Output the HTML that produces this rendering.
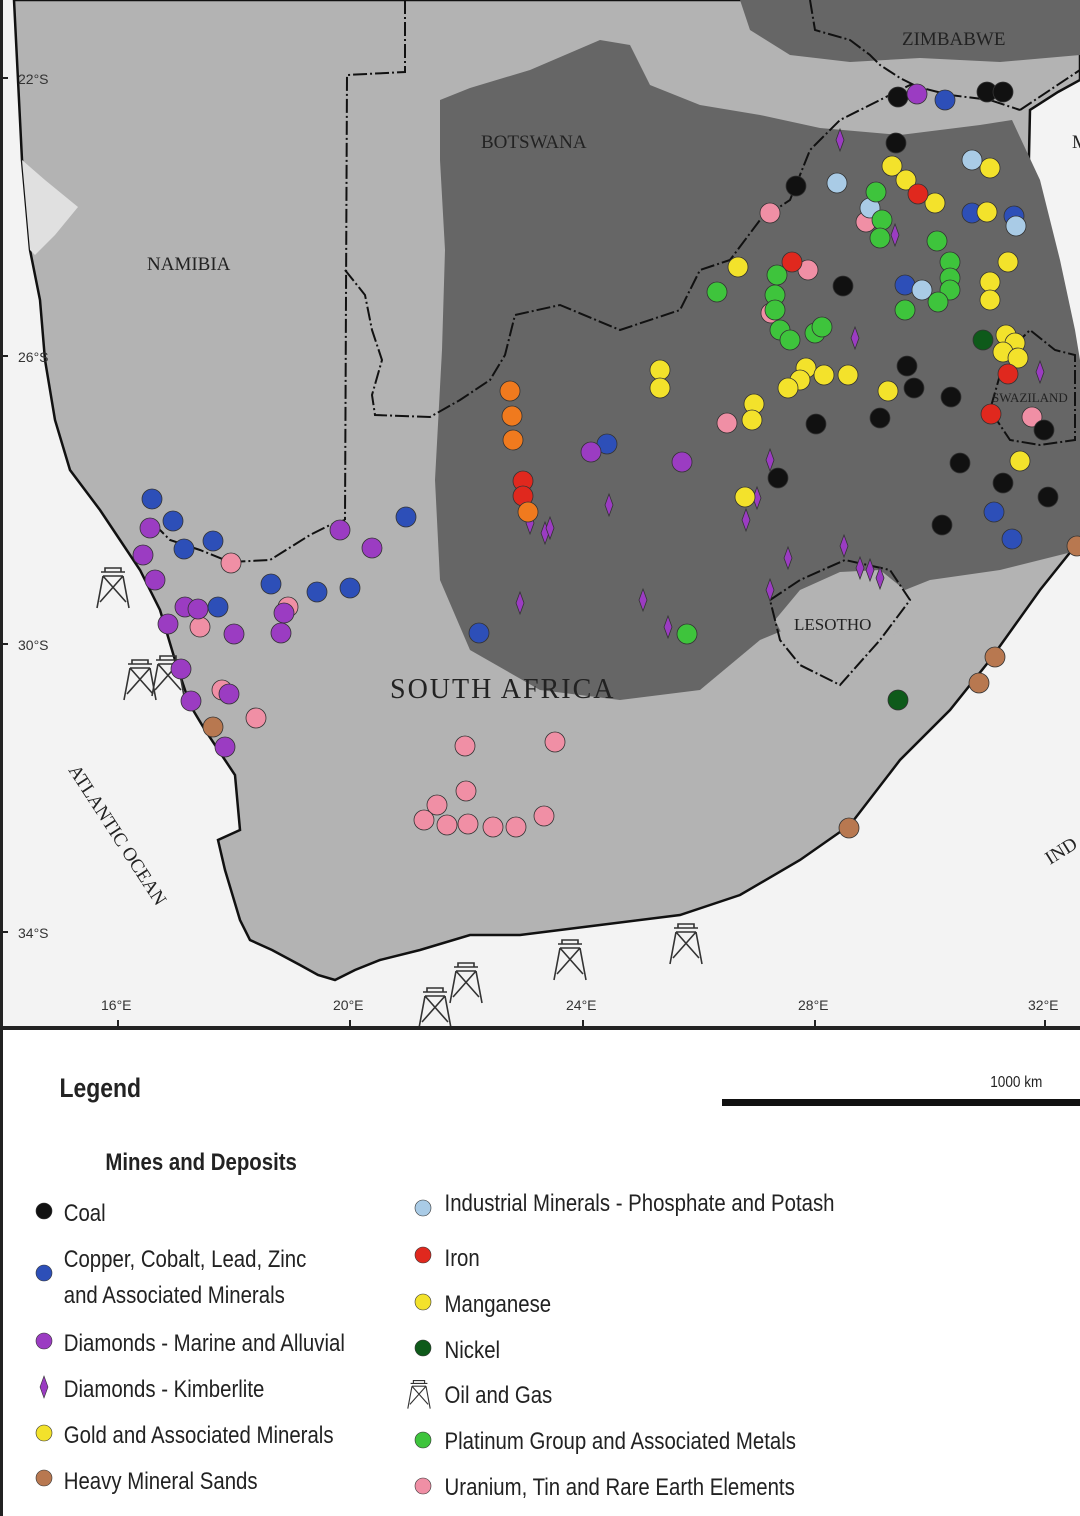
<!DOCTYPE html>
<html><head><meta charset="utf-8"><style>
html,body{margin:0;padding:0;background:#fff}
svg{display:block}
.lab{font-family:"Liberation Serif",serif;fill:#222}
.tk{font-family:"Liberation Sans",sans-serif;font-size:14px;fill:#333}
.lg{font-family:"Liberation Sans",sans-serif;font-size:24px;fill:#222}
</style></head><body>
<svg width="1080" height="1516" viewBox="0 0 1080 1516" xmlns="http://www.w3.org/2000/svg">
<defs>
<g id="rig"><path d="M-12,-18 h24 M-10,-14 h20 M-8,-18 v-4 h16 v4 M-10,-14 L-16,18 M10,-14 L16,18 M-10,-14 L13,12 M10,-14 L-13,12" stroke="#333" stroke-width="1.6" fill="none"/></g>
<path id="kim" d="M0,-11 L4,0 L0,11 L-4,0 Z"/>
</defs>
<rect x="0" y="0" width="1080" height="1030" fill="#f3f3f3"/>
<path d="M14,0 L1080,0 L1080,80 L1058,92 L1030,110 L1028,200 L1040,300 L1058,400 L1072,500 L1080,540 L1040,590 L990,660 L950,710 L900,760 L850,825 L800,860 L740,895 L680,915 L600,925 L520,935 L470,935 L420,950 L380,960 L355,970 L335,980 L318,975 L300,965 L272,950 L250,940 L240,920 L225,870 L218,840 L240,830 L235,775 L205,730 L190,705 L175,660 L160,610 L140,570 L120,540 L100,510 L70,470 L55,420 L45,360 L40,300 L30,250 L22,160 L18,80 Z" fill="#b3b3b3" stroke="#111" stroke-width="2.5"/>
<path d="M22,160 L45,180 L78,207 L55,235 L35,255 L30,250 Z" fill="#e0e0e0"/>
<path d="M440,100 L470,88 L530,70 L600,40 L630,45 L650,85 L700,105 L760,115 L820,128 L900,135 L980,125 L1012,120 L1040,180 L1060,260 L1075,330 L1080,360 L1080,550 L1000,570 L930,580 L880,600 L820,615 L760,640 L700,690 L620,700 L540,690 L470,650 L440,580 L435,480 L442,350 L445,250 L440,160 Z" fill="#666"/>
<path d="M775,620 L800,590 L840,572 L880,570 L905,590 L900,630 L860,660 L830,680 L800,670 Z" fill="#b3b3b3"/>
<path d="M740,0 L1080,0 L1080,55 L1000,62 L920,58 L850,62 L790,55 L750,30 Z" fill="#666"/>
<g stroke="#111" stroke-width="2" fill="none" stroke-dasharray="14,3,2,3">
<path d="M405,0 L405,72 L347,75 L345,520"/>
<path d="M345,270 L365,295 L372,330 L382,360 L372,395 L375,415 L430,417 L460,400 L490,380 L505,355 L515,315 L560,305 L620,330 L680,310 L700,270 L730,260 L760,220 L790,200 L810,150 L840,120 L880,100 L910,85 L950,95 L990,100 L1020,110"/>
<path d="M810,0 L815,30 L850,40 L870,55 L880,65 L900,78 L920,88"/>
<path d="M1020,110 L1050,90 L1080,70"/>
<path d="M345,520 L330,525 L310,535 L270,560 L230,562 L200,550 L170,540 L150,520"/>
<path d="M1000,360 L1030,330 L1055,350 L1075,355 L1075,440 L1040,445 L1010,440 L990,410 L1000,375"/>
<path d="M770,600 L800,580 L845,560 L890,570 L910,600 L880,640 L840,685 L800,665 L780,640 Z"/>
</g>
<g stroke="#222" stroke-width="2">
<path d="M0,78 h8 M0,356 h8 M0,644 h8 M0,932 h8 M118,1020 v10 M350,1020 v10 M583,1020 v10 M815,1020 v10 M1045,1020 v10"/>
</g>
<g class="tk">
<text x="18" y="84">22°S</text><text x="18" y="362">26°S</text><text x="18" y="650">30°S</text><text x="18" y="938">34°S</text>
<text x="101" y="1010">16°E</text><text x="333" y="1010">20°E</text><text x="566" y="1010">24°E</text><text x="798" y="1010">28°E</text><text x="1028" y="1010">32°E</text>
</g>
<g class="lab">
<text x="902" y="45" font-size="19">ZIMBABWE</text>
<text x="481" y="148" font-size="19">BOTSWANA</text>
<text x="147" y="270" font-size="19">NAMIBIA</text>
<text x="390" y="698" font-size="28" letter-spacing="2">SOUTH AFRICA</text>
<text x="794" y="630" font-size="17">LESOTHO</text>
<text x="992" y="402" font-size="13">SWAZILAND</text>
<text x="1072" y="148" font-size="19">M</text>
<text transform="translate(68,770) rotate(57)" font-size="19">ATLANTIC OCEAN</text>
<text transform="translate(1050,865) rotate(-32)" font-size="19">IND</text>
</g>
<g>
<use href="#rig" x="113" y="590"/><use href="#rig" x="140" y="682"/><use href="#rig" x="168" y="678"/>
<use href="#rig" x="435" y="1010"/><use href="#rig" x="466" y="985"/><use href="#rig" x="570" y="962"/><use href="#rig" x="686" y="946"/>
</g>
<g stroke="#333" stroke-width="0.8">
<g fill="#f08fa5"><circle cx="770" cy="213" r="10"/><circle cx="866" cy="222" r="10"/><circle cx="808" cy="270" r="10"/><circle cx="771" cy="313" r="10"/><circle cx="727" cy="423" r="10"/><circle cx="1032" cy="417" r="10"/><circle cx="231" cy="563" r="10"/><circle cx="288" cy="607" r="10"/><circle cx="200" cy="627" r="10"/><circle cx="222" cy="690" r="10"/><circle cx="256" cy="718" r="10"/><circle cx="465" cy="746" r="10"/><circle cx="555" cy="742" r="10"/><circle cx="466" cy="791" r="10"/><circle cx="437" cy="805" r="10"/><circle cx="424" cy="820" r="10"/><circle cx="447" cy="825" r="10"/><circle cx="468" cy="824" r="10"/><circle cx="493" cy="827" r="10"/><circle cx="516" cy="827" r="10"/><circle cx="544" cy="816" r="10"/></g>
<g fill="#111"><circle cx="898" cy="97" r="10"/><circle cx="987" cy="92" r="10"/><circle cx="1003" cy="92" r="10"/><circle cx="896" cy="143" r="10"/><circle cx="796" cy="186" r="10"/><circle cx="843" cy="286" r="10"/><circle cx="907" cy="366" r="10"/><circle cx="914" cy="388" r="10"/><circle cx="951" cy="397" r="10"/><circle cx="880" cy="418" r="10"/><circle cx="816" cy="424" r="10"/><circle cx="1044" cy="430" r="10"/><circle cx="960" cy="463" r="10"/><circle cx="778" cy="478" r="10"/><circle cx="1003" cy="483" r="10"/><circle cx="1048" cy="497" r="10"/><circle cx="942" cy="525" r="10"/></g>
<g fill="#2d4fb8"><circle cx="945" cy="100" r="10"/><circle cx="972" cy="213" r="10"/><circle cx="1014" cy="216" r="10"/><circle cx="905" cy="285" r="10"/><circle cx="994" cy="512" r="10"/><circle cx="1012" cy="539" r="10"/><circle cx="607" cy="444" r="10"/><circle cx="152" cy="499" r="10"/><circle cx="173" cy="521" r="10"/><circle cx="184" cy="549" r="10"/><circle cx="213" cy="541" r="10"/><circle cx="218" cy="607" r="10"/><circle cx="271" cy="584" r="10"/><circle cx="317" cy="592" r="10"/><circle cx="350" cy="588" r="10"/><circle cx="406" cy="517" r="10"/><circle cx="479" cy="633" r="10"/></g>
<g fill="#9b3cc2"><circle cx="917" cy="94" r="10"/><circle cx="591" cy="452" r="10"/><circle cx="682" cy="462" r="10"/><circle cx="340" cy="530" r="10"/><circle cx="372" cy="548" r="10"/><circle cx="150" cy="528" r="10"/><circle cx="143" cy="555" r="10"/><circle cx="155" cy="580" r="10"/><circle cx="185" cy="607" r="10"/><circle cx="198" cy="609" r="10"/><circle cx="168" cy="624" r="10"/><circle cx="234" cy="634" r="10"/><circle cx="284" cy="613" r="10"/><circle cx="281" cy="633" r="10"/><circle cx="181" cy="669" r="10"/><circle cx="191" cy="701" r="10"/><circle cx="229" cy="694" r="10"/><circle cx="225" cy="747" r="10"/></g>
<g fill="#9b3cc2"><use href="#kim" x="840" y="140"/><use href="#kim" x="895" y="235"/><use href="#kim" x="855" y="338"/><use href="#kim" x="1040" y="372"/><use href="#kim" x="770" y="460"/><use href="#kim" x="757" y="498"/><use href="#kim" x="746" y="520"/><use href="#kim" x="609" y="505"/><use href="#kim" x="530" y="523"/><use href="#kim" x="545" y="533"/><use href="#kim" x="550" y="528"/><use href="#kim" x="788" y="558"/><use href="#kim" x="844" y="546"/><use href="#kim" x="860" y="568"/><use href="#kim" x="870" y="570"/><use href="#kim" x="880" y="578"/><use href="#kim" x="770" y="590"/><use href="#kim" x="520" y="603"/><use href="#kim" x="643" y="600"/><use href="#kim" x="668" y="627"/></g>
<g fill="#f3e22b"><circle cx="892" cy="166" r="10"/><circle cx="906" cy="180" r="10"/><circle cx="935" cy="203" r="10"/><circle cx="990" cy="168" r="10"/><circle cx="987" cy="212" r="10"/><circle cx="1008" cy="262" r="10"/><circle cx="990" cy="282" r="10"/><circle cx="990" cy="300" r="10"/><circle cx="1006" cy="335" r="10"/><circle cx="1015" cy="343" r="10"/><circle cx="1003" cy="352" r="10"/><circle cx="1018" cy="358" r="10"/><circle cx="738" cy="267" r="10"/><circle cx="660" cy="370" r="10"/><circle cx="660" cy="388" r="10"/><circle cx="806" cy="368" r="10"/><circle cx="800" cy="380" r="10"/><circle cx="788" cy="388" r="10"/><circle cx="824" cy="375" r="10"/><circle cx="848" cy="375" r="10"/><circle cx="888" cy="391" r="10"/><circle cx="754" cy="404" r="10"/><circle cx="752" cy="420" r="10"/><circle cx="745" cy="497" r="10"/><circle cx="1020" cy="461" r="10"/></g>
<g fill="#b87850"><circle cx="213" cy="727" r="10"/><circle cx="849" cy="828" r="10"/><circle cx="979" cy="683" r="10"/><circle cx="995" cy="657" r="10"/><circle cx="1077" cy="546" r="10"/></g>
<g fill="#a9cbe6"><circle cx="837" cy="183" r="10"/><circle cx="870" cy="208" r="10"/><circle cx="972" cy="160" r="10"/><circle cx="1016" cy="226" r="10"/><circle cx="922" cy="290" r="10"/></g>
<g fill="#e0281e"><circle cx="918" cy="194" r="10"/><circle cx="792" cy="262" r="10"/><circle cx="1008" cy="374" r="10"/><circle cx="991" cy="414" r="10"/><circle cx="523" cy="481" r="10"/><circle cx="523" cy="496" r="10"/></g>
<g fill="#f07a1e"><circle cx="510" cy="391" r="10"/><circle cx="512" cy="416" r="10"/><circle cx="513" cy="440" r="10"/><circle cx="528" cy="512" r="10"/></g>
<g fill="#0e5a1a"><circle cx="983" cy="340" r="10"/><circle cx="898" cy="700" r="10"/></g>
<g fill="#3ec43c"><circle cx="876" cy="192" r="10"/><circle cx="882" cy="220" r="10"/><circle cx="880" cy="238" r="10"/><circle cx="937" cy="241" r="10"/><circle cx="950" cy="262" r="10"/><circle cx="950" cy="278" r="10"/><circle cx="950" cy="290" r="10"/><circle cx="938" cy="302" r="10"/><circle cx="905" cy="310" r="10"/><circle cx="777" cy="275" r="10"/><circle cx="775" cy="295" r="10"/><circle cx="775" cy="310" r="10"/><circle cx="780" cy="330" r="10"/><circle cx="790" cy="340" r="10"/><circle cx="815" cy="333" r="10"/><circle cx="822" cy="327" r="10"/><circle cx="717" cy="292" r="10"/><circle cx="687" cy="634" r="10"/></g>
</g>
<rect x="0" y="1028" width="1080" height="488" fill="#fff"/>
<rect x="0" y="1026" width="1080" height="4" fill="#222"/>
<rect x="0" y="0" width="3" height="1516" fill="#222"/>
<g transform="scale(0.85 1)">
<text x="70" y="1097" class="lg" font-weight="bold" style="font-size:27px">Legend</text>
<text x="1165" y="1087" class="lg" style="font-size:16px">1000 km</text>
<text x="124" y="1170" class="lg" font-weight="bold">Mines and Deposits</text>
<g class="lg">
<text x="75" y="1221">Coal</text>
<text x="75" y="1267">Copper, Cobalt, Lead, Zinc</text>
<text x="75" y="1303">and Associated Minerals</text>
<text x="75" y="1351">Diamonds - Marine and Alluvial</text>
<text x="75" y="1397">Diamonds - Kimberlite</text>
<text x="75" y="1443">Gold and Associated Minerals</text>
<text x="75" y="1489">Heavy Mineral Sands</text>
<text x="523" y="1211">Industrial Minerals - Phosphate and Potash</text>
<text x="523" y="1266">Iron</text>
<text x="523" y="1312">Manganese</text>
<text x="523" y="1358">Nickel</text>
<text x="523" y="1403">Oil and Gas</text>
<text x="523" y="1449">Platinum Group and Associated Metals</text>
<text x="523" y="1495">Uranium, Tin and Rare Earth Elements</text>
</g>
</g>
<rect x="722" y="1099" width="358" height="7" fill="#111"/>
<g stroke="#333" stroke-width="0.6">
<circle cx="44" cy="1211" r="8" fill="#111"/>
<circle cx="44" cy="1273" r="8" fill="#2d4fb8"/>
<circle cx="44" cy="1341" r="8" fill="#9b3cc2"/>
<use href="#kim" x="44" y="1387" fill="#9b3cc2"/>
<circle cx="44" cy="1433" r="8" fill="#f3e22b"/>
<circle cx="44" cy="1478" r="8" fill="#b87850"/>
<circle cx="423" cy="1208" r="8" fill="#a9cbe6"/>
<circle cx="423" cy="1255" r="8" fill="#e0281e"/>
<circle cx="423" cy="1302" r="8" fill="#f3e22b"/>
<circle cx="423" cy="1348" r="8" fill="#0e5a1a"/>
<circle cx="423" cy="1440" r="8" fill="#3ec43c"/>
<circle cx="423" cy="1486" r="8" fill="#f08fa5"/>
</g>
<use href="#rig" x="419" y="1396" transform="translate(419,1396) scale(0.7) translate(-419,-1396)"/>
</svg>
</body></html>
